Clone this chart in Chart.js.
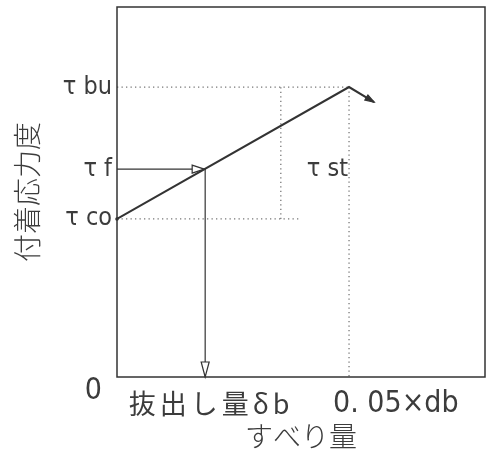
<!DOCTYPE html>
<html><head><meta charset="utf-8">
<script src="https://cdn.jsdelivr.net/npm/chart.js@4/dist/chart.umd.min.js"></script>
<style>html,body{margin:0;padding:0;background:#fff}#wrap{width:487px;height:454px}</style>
</head><body><div id="wrap"><canvas id="c" width="487" height="454"></canvas></div>
<script>
// ---- data (x: slip, y: bond stress, τbu = 1) ----
const yLevelNames  = ['τ co', 'τ f', 'τ bu'];
const yLevelValues = [0.545, 0.717, 1.0];
const xMarkNames   = ['0', '抜出し量δb', '0. 05×db'];
const xMarkValues  = [0, 0.019, 0.05];
const bondCurveX   = [0, 0.05, 0.0554];
const bondCurveY   = [0.545, 1.0, 0.948];
const stLabel      = 'τ st';
const stMarkX      = 0.0353;
const coGuideEndX  = 0.0397;
const xMax = 0.0793, yMax = 1.276;
const yTitle = '付着応力度';
const xTitle = 'すべり量';

const tauCo = yLevelValues[0], tauF = yLevelValues[1], tauBu = yLevelValues[2];
const deltaB = xMarkValues[1], peakX = xMarkValues[2];

const INK = '#333';
const TEXT = '#3c3c3c';
const COND = '"DejaVu Sans Condensed", "Liberation Sans Narrow", "DejaVu Sans", sans-serif';
const CJK = '"Noto Sans CJK JP", "Noto Sans CJK SC", sans-serif';

const pts = (xs, ys) => xs.map((v, i) => ({x: v, y: ys[i]}));
const solid = (data, w) => ({data, borderColor: INK, borderWidth: w, pointRadius: 0, fill: false, tension: 0});
const dotted = data => ({data, borderColor: '#777', borderWidth: 1.3, borderDash: [1.3, 3.2], pointRadius: 0, fill: false});

const datasets = [
  solid(pts(bondCurveX, bondCurveY), 2),
  solid(pts([0, deltaB], [tauF, tauF]), 1.2),
  solid(pts([deltaB, deltaB], [tauF, 0]), 1.2),
  dotted(pts([0, peakX], [tauBu, tauBu])),
  dotted(pts([peakX, peakX], [tauBu, 0])),
  dotted(pts([0, coGuideEndX], [tauCo, tauCo])),
  dotted(pts([stMarkX, stMarkX], [tauCo, tauBu]))
];

function openTri(ctx, tx, ty, dx, dy, len, half, fillCol) {
  const L = Math.hypot(dx, dy); dx /= L; dy /= L;
  const bx = tx - dx * len, by = ty - dy * len;
  ctx.beginPath();
  ctx.moveTo(tx, ty);
  ctx.lineTo(bx - dy * half, by + dx * half);
  ctx.lineTo(bx + dy * half, by - dx * half);
  ctx.closePath();
  ctx.fillStyle = fillCol; ctx.fill();
  ctx.strokeStyle = INK; ctx.lineWidth = 1.2; ctx.stroke();
}

const decor = {
  id: 'decor',
  afterDatasetsDraw(chart) {
    const {ctx, chartArea: a, scales: {x, y}} = chart;
    ctx.save();
    ctx.strokeStyle = INK; ctx.lineWidth = 1.5;
    ctx.strokeRect(a.left, a.top, a.right - a.left, a.bottom - a.top);
    // arrowheads
    const dbx = x.getPixelForValue(deltaB), tfy = y.getPixelForValue(tauF);
    openTri(ctx, dbx - 1, tfy, 1, 0, 12, 4, '#fff');
    openTri(ctx, dbx, y.getPixelForValue(0), 0, 1, 15, 4, '#fff');
    const px = x.getPixelForValue(bondCurveX[1]), py = y.getPixelForValue(bondCurveY[1]);
    const ex = x.getPixelForValue(bondCurveX[2]), ey = y.getPixelForValue(bondCurveY[2]);
    openTri(ctx, ex, ey, ex - px, ey - py, 9, 3, INK);
    ctx.beginPath(); ctx.arc(x.getPixelForValue(bondCurveX[0]), y.getPixelForValue(bondCurveY[0]), 1.8, 0, 7);
    ctx.fillStyle = INK; ctx.fill();
    // texts
    ctx.fillStyle = TEXT; ctx.textBaseline = 'middle';
    ctx.font = '30px ' + COND; ctx.textAlign = 'right';
    ctx.fillText(xMarkNames[0], a.left - 15, a.bottom + 14);
    ctx.font = '25px ' + COND; ctx.textAlign = 'right';
    ctx.fillText(stLabel, x.getPixelForValue(peakX) - 1, tfy);
    ctx.font = '27px ' + CJK; ctx.textAlign = 'center';
    ctx.letterSpacing = '4px';
    ctx.fillText(xMarkNames[1], dbx + 6, a.bottom + 27);
    ctx.letterSpacing = '0px';
    ctx.font = '30px ' + COND; ctx.textAlign = 'left';
    ctx.fillText(xMarkNames[2], x.getPixelForValue(peakX) - 16, a.bottom + 27);
    ctx.restore();
  }
};

new Chart(document.getElementById('c'), {
  type: 'line',
  data: {datasets},
  options: {
    responsive: false, animation: false,
    layout: {padding: {left: 0, top: 7, right: 2, bottom: 0}},
    plugins: {legend: {display: false}, tooltip: {enabled: false}},
    scales: {
      x: {
        type: 'linear', min: 0, max: xMax,
        grid: {display: false}, border: {display: false},
        ticks: {display: false},
        title: {display: true, text: xTitle, color: TEXT, padding: {top: 0, bottom: 1},
                font: {family: CJK, size: 28, weight: '300'}},
        afterFit(s) { s.height = 77; s.paddingLeft = 0; s.paddingRight = 0; }
      },
      y: {
        type: 'linear', min: 0, max: yMax,
        grid: {display: false, drawTicks: false}, border: {display: false},
        afterBuildTicks(s) { s.ticks = yLevelValues.map(v => ({value: v})); },
        ticks: {
          color: TEXT, padding: 5, autoSkip: false,
          font: {family: COND, size: 25},
          callback: v => { const i = yLevelValues.indexOf(v); return i >= 0 ? yLevelNames[i] : ''; }
        },
        title: {display: true, text: yTitle, color: TEXT, padding: {top: 11, bottom: 0},
                font: {family: CJK, size: 28, weight: '300'}},
        afterFit(s) { s.width = 117; s.paddingTop = 0; s.paddingBottom = 0; }
      }
    }
  },
  plugins: [decor]
});
</script></body></html>
